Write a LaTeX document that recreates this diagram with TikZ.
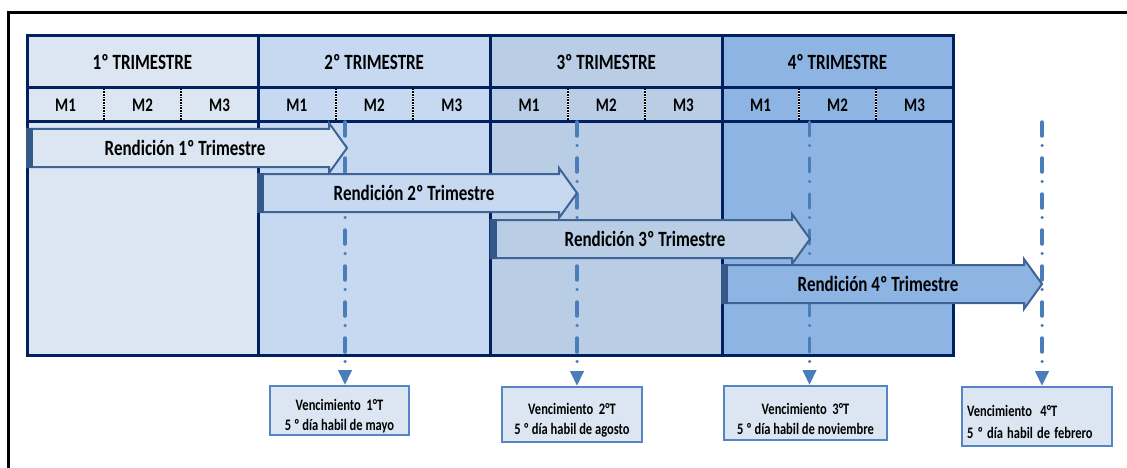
\documentclass[tikz,border=0pt]{standalone}
\usepackage{fontspec}
\setmainfont{Carlito}
\usetikzlibrary{arrows.meta}
\definecolor{qone}{HTML}{DCE6F2}
\definecolor{qtwo}{HTML}{C6D9F1}
\definecolor{qthree}{HTML}{B9CDE5}
\definecolor{qfour}{HTML}{8EB4E3}
\definecolor{navy}{HTML}{002060}
\definecolor{arrline}{HTML}{3E6496}
\definecolor{arrdark}{HTML}{34588A}
\definecolor{dueblue}{HTML}{4A7EBB}
\definecolor{boxline}{HTML}{5585C2}
\newcommand{\tallt}[1]{\scalebox{1}[1.28]{#1}}
\newcommand{\topgap}{\rule{0pt}{23pt}}
\tikzset{frame/.style={line width=3pt},grid/.style={draw=navy,line width=3pt},monthsep/.style={line width=2pt,dash pattern=on .8pt off .8pt,preaction={draw,white,line width=2pt,solid}},head/.style={inner sep=0pt,font=\bfseries\fontsize{17}{20}\selectfont},month/.style={inner sep=0pt,font=\bfseries\fontsize{15}{18}\selectfont},rend/.style={draw=arrline,line width=2pt,line join=miter},strip/.style={fill=arrdark},rendtxt/.style={inner sep=0pt,font=\bfseries\fontsize{17}{20}\selectfont},due/.style={dueblue,line width=3.5pt,line cap=round,dash pattern=on 14pt off 9.5pt on 0pt off 12.5pt,-{Triangle[length=15pt,width=13pt]}},venc/.style={draw=boxline,line width=1.8pt,fill=qone,inner sep=0pt,align=center,font=\bfseries\fontsize{12.5}{20}\selectfont}}

\begin{document}
\begin{tikzpicture}[x=1pt,y=-1pt]
\path[use as bounding box] (0,0) rectangle (1127,468);
\draw[frame] (8.5,480) -- (8.5,12.3) -- (1140,12.3);
% quarters
\fill[qone] (27,36) rectangle (258,355);
\fill[qtwo] (258,36) rectangle (490.5,355);
\fill[qthree] (490.5,36) rectangle (722,355);
\fill[qfour] (722,36) rectangle (953,355);
\draw[monthsep] (104,89) -- (104,121);
\draw[monthsep] (181,89) -- (181,121);
\draw[monthsep] (335.5,89) -- (335.5,121);
\draw[monthsep] (413,89) -- (413,121);
\draw[monthsep] (567.7,89) -- (567.7,121);
\draw[monthsep] (644.8,89) -- (644.8,121);
\draw[monthsep] (799,89) -- (799,121);
\draw[monthsep] (876,89) -- (876,121);
\draw[grid] (27,36) rectangle (953,355);
\draw[grid] (27,88) -- (953,88);
\draw[grid] (27,122) -- (953,122);
\draw[grid] (258,36) -- (258,355);
\draw[grid] (490.5,36) -- (490.5,355);
\draw[grid] (722,36) -- (722,355);
\node[head] (h1) at (142.5,62) {\tallt{1º TRIMESTRE}};
\node[head] (h2) at (374.25,62) {\tallt{2º TRIMESTRE}};
\node[head] (h3) at (606.25,62) {\tallt{3º TRIMESTRE}};
\node[head] (h4) at (837.5,62) {\tallt{4º TRIMESTRE}};
\node[month] (m11) at (65.5,105) {\tallt{M1}};
\node[month] (m12) at (142.5,105) {\tallt{M2}};
\node[month] (m13) at (219.5,105) {\tallt{M3}};
\node[month] (m21) at (296.75,105) {\tallt{M1}};
\node[month] (m22) at (374.25,105) {\tallt{M2}};
\node[month] (m23) at (451.75,105) {\tallt{M3}};
\node[month] (m31) at (529.1,105) {\tallt{M1}};
\node[month] (m32) at (606.3,105) {\tallt{M2}};
\node[month] (m33) at (683.4,105) {\tallt{M3}};
\node[month] (m41) at (760.5,105) {\tallt{M1}};
\node[month] (m42) at (837.5,105) {\tallt{M2}};
\node[month] (m43) at (914.5,105) {\tallt{M3}};
% due dates
\node[venc,minimum width=139pt,minimum height=49pt] (v1) at (339.5,410.5) {\topgap\tallt{Vencimiento~~1°T}\\\tallt{5 º día habil de mayo}};
\node[venc,minimum width=140pt,minimum height=55pt] (v2) at (572,414.5) {\topgap\tallt{Vencimiento~~2°T}\\\tallt{5 º día habil de agosto}};
\node[venc,minimum width=163pt,minimum height=54pt] (v3) at (805.5,413) {\topgap\tallt{Vencimiento~~3°T}\\\tallt{5 º día habil de noviembre}};
\node[venc,minimum width=150pt,minimum height=59pt,text width=140pt,align=left,font=\bfseries\fontsize{12.5}{22}\selectfont] (v4) at (1037,416.5) {\topgap\tallt{Vencimiento~~4°T}\\\tallt{5 º día habil de febrero}};
\coordinate (t1) at (345,122);
\coordinate (t2) at (577,122);
\coordinate (t3) at (809.5,122);
\coordinate (t4) at (1042,122);
\draw[due] (t1) -- (t1 |- v1.north);
\draw[due] (t2) -- (t2 |- v2.north);
\draw[due] (t3) -- (t3 |- v3.north);
\draw[due] (t4) -- (t4 |- v4.north);
% rendiciones
\draw[rend,fill=qone] (27,129) -- (329,129) -- (329,123) -- (347,148) -- (329,173) -- (329,167) -- (27,167) -- cycle;
\fill[strip] (26,128) rectangle (33,168);
\draw[rend,fill=qtwo] (258,174) -- (559,174) -- (559,168) -- (577,193) -- (559,218) -- (559,212) -- (258,212) -- cycle;
\fill[strip] (257,173) rectangle (264,213);
\draw[rend,fill=qthree] (490.5,220) -- (792,220) -- (792,214) -- (810,239) -- (792,264) -- (792,258) -- (490.5,258) -- cycle;
\fill[strip] (489.5,219) rectangle (496.5,259);
\draw[rend,fill=qfour] (722,265) -- (1024,265) -- (1024,259) -- (1042,284) -- (1024,309) -- (1024,303) -- (722,303) -- cycle;
\fill[strip] (721,264) rectangle (728,304);
\node[rendtxt] (r1) at (185,148) {\tallt{Rendición 1º Trimestre}};
\node[rendtxt] (r2) at (414,193) {\tallt{Rendición 2º Trimestre}};
\node[rendtxt] (r3) at (645,239) {\tallt{Rendición 3º Trimestre}};
\node[rendtxt] (r4) at (878,284) {\tallt{Rendición 4º Trimestre}};
\end{tikzpicture}
\end{document}
